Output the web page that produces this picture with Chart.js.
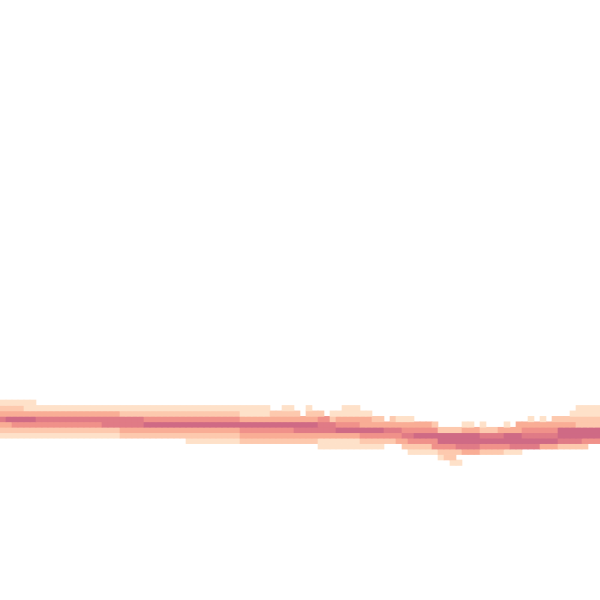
<!DOCTYPE html>
<html>
<head>
<meta charset="utf-8">
<script src="https://cdn.jsdelivr.net/npm/chart.js@4"></script>
<style>
html,body{margin:0;padding:0;background:#fff;}
#wrap{width:600px;height:600px;}
</style>
</head>
<body>
<div id="wrap"><canvas id="c" width="600" height="600"></canvas></div>
<script>
// x bins (columns) of the density grid
const columns = Array.from({length: 100}, (_, i) => i);
// density level per cell (0 = empty, 1..6 = light..dark), one string per row, top row first
const rowLevels = [
  "1111110000000000000000000000000000000000000000000000000000000000000000000000000000000000000000000000",
  "2222111111111111111111111111111111111111111110011001000001110000000000000000000000000000000000001111",
  "3333333333333333333322222222222222222222111112222202220111111100000000000000000000000000000000011111",
  "5666665555555555555555554444444444444444333333333333344233333322021110000000000000000000101022222222",
  "3344444444444444455555556666666666666666666666666666655544443333333333332000011010001033333333332222",
  "2222222222222222222233333333333333333333444444444555555566666666555444444222233322233334444446666666",
  "1111111111111111111122222222222222222222333333333333333333334444444556666666666655556665555556666666",
  "0000000000000000000000000000000111111111222222222222211111112222223344444666666666666666666665555444",
  "0000000000000000000000000000000000000000000000000000011111111111000222224444555544444555553332222200",
  "0000000000000000000000000000000000000000000000000000000000000000000011111222233322221110000000000000",
  "0000000000000000000000000000000000000000000000000000000000000000000000000122000000000000000000000000",
  "0000000000000000000000000000000000000000000000000000000000000000000000000001100000000000000000000000"
];
const levelColors = ['rgba(0,0,0,0)', '#fee1c9', '#fdc9ae', '#f9ad95', '#f0918a', '#e07b86', '#cf6a85'];

const datasets = rowLevels.map((s, r) => ({
  data: columns.map(c => (+s[c] > 0 ? [r, r + 1] : null)),
  backgroundColor: columns.map(c => levelColors[+s[c]]),
  borderWidth: 0,
  borderSkipped: false,
  grouped: false,
  barPercentage: 1,
  categoryPercentage: 1
}));

new Chart(document.getElementById('c'), {
  type: 'bar',
  data: { labels: columns, datasets },
  options: {
    responsive: false,
    animation: false,
    layout: { padding: 0 },
    plugins: { legend: { display: false }, tooltip: { enabled: false } },
    scales: {
      x: { type: 'category', display: false },
      y: { type: 'linear', display: false, reverse: true, min: -73.333, max: 36.667 }
    }
  }
});
</script>
</body>
</html>
